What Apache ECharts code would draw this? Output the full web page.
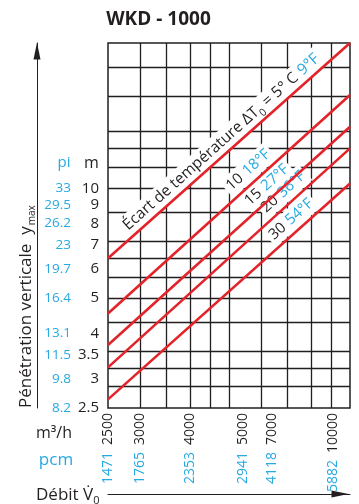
<!DOCTYPE html>
<html>
<head>
<meta charset="utf-8">
<script src="https://cdn.jsdelivr.net/npm/echarts@6/dist/echarts.min.js"></script>
<style>
  html, body { margin: 0; padding: 0; background: #fff; }
  #chart { width: 359px; height: 504px; }
</style>
</head>
<body>
<div id="chart"></div>
<script>
// Air flow tick labels: where each label sits (m³/h), its m³/h text and its cfm text
const flowTickValues = [2500, 3000, 4000, 5420, 6400, 9070];
const flowTickM3h = ['2500', '3000', '4000', '5000', '7000', '10000'];
const flowTickCfm = ['1471', '1765', '2353', '2941', '4118', '5882'];

// Vertical penetration tick labels (m) and their feet equivalents
const depthTickValues = [2.5, 3, 3.5, 4, 5, 6, 7, 8, 9, 10];
const depthTickFt = ['8.2', '9.8', '11.5', '13.1', '16.4', '19.7', '23', '26.2', '29.5', '33'];

// Log grid lines
const flowGrid = [3000, 3500, 4000, 4500, 5000, 6000, 7000, 8000, 9000];
const depthGrid = [2.86, 3.21, 3.57, 4.29, 5, 5.71, 6.43, 7.14, 8.57, 10, 11.43, 12.86, 14.29, 17.86, 21.43];

// Temperature difference curves (°C / °F), penetration at both ends of the flow range
const deltaC = [5, 10, 15, 20, 30];
const deltaF = [9, 18, 27, 36, 54];
const curveFlow = [2500, 10000];
const curve5 = [6.43, 25];
const curve10 = [4.54, 18.0];
const curve15 = [3.72, 14.74];
const curve20 = [3.23, 12.86];
const curve30 = [2.64, 10.3];

const curves = [curve5, curve10, curve15, curve20, curve30];

const FONT = '"Open Sans", "DejaVu Sans", sans-serif';
const BLACK = '#231f20';
const BLUE = '#27a9e1';
const RED = '#e3232a';
const lg = Math.log10;

function nearestIndex(list, v) {
  let best = 0;
  list.forEach((x, i) => { if (Math.abs(lg(x) - v) < Math.abs(lg(list[best]) - v)) best = i; });
  return best;
}

// label placement along each curve
const curveLabelPos = ['insideMiddleTop', 'insideEndTop', 'insideEndTop', 'insideEndTop', 'insideEndTop'];
const curveLabelDist = [[0, 1], [96, 2], [71, 2], [49, 2], [38, 2]];

const curveRich = {
  blk: { color: BLACK, fontSize: 15, fontFamily: FONT, lineHeight: 17 },
  blu: { color: BLUE, fontSize: 15, fontFamily: FONT, lineHeight: 17, padding: [0, 0, 0, 5] },
  bl0: { color: BLUE, fontSize: 15.5, fontFamily: FONT, lineHeight: 17, padding: [0, 0, 0, 5] },
  big: { color: BLACK, fontSize: 15.5, fontFamily: FONT, lineHeight: 17 },
  sub: { color: BLACK, fontSize: 10.5, fontFamily: FONT, lineHeight: 17, padding: [12, 0, 0, 0] }
};

const curveLabels = deltaC.map((c, i) => i === 0
  ? '{big|Écart de température ΔT}{sub|0}{big| = ' + c + '° C}{bl0|' + deltaF[i] + '°F}'
  : '{blk|' + c + '}{blu|' + deltaF[i] + '°F}');

const chart = echarts.init(document.getElementById('chart'), null, { renderer: 'canvas' });

const hidden = { show: false };

const option = {
  animation: false,
  grid: {
    left: 108, right: 9, top: 43, bottom: 96,
    show: true, borderColor: BLACK, borderWidth: 1.5, backgroundColor: 'transparent'
  },
  xAxis: [
    { type: 'log', min: curveFlow[0], max: curveFlow[1], show: false },
    {
      type: 'value', position: 'bottom', min: lg(2500), max: lg(10000),
      axisLine: hidden, axisTick: hidden, splitLine: hidden,
      axisLabel: {
        customValues: flowTickValues.map(lg),
        rotate: 90, margin: 5,
        formatter: v => {
          const i = nearestIndex(flowTickValues, v);
          return '{p|' + flowTickCfm[i] + '}{m|' + flowTickM3h[i] + '}';
        },
        rich: {
          p: { color: BLUE, fontSize: 14, fontFamily: FONT },
          m: { color: BLACK, fontSize: 14, fontFamily: FONT, padding: [0, 0, 0, 7] }
        }
      }
    },
    {
      type: 'value', position: 'bottom', offset: 86, min: 0, max: 1,
      axisLine: {
        show: true, symbol: ['none', 'triangle'], symbolSize: [7, 17], symbolOffset: [0, -10],
        lineStyle: { color: BLACK, width: 1 }
      },
      axisTick: hidden, axisLabel: hidden, splitLine: hidden
    }
  ],
  yAxis: [
    { type: 'log', min: 2.5, max: 25, show: false },
    {
      type: 'value', position: 'left', min: lg(2.5), max: lg(25),
      axisLine: hidden, axisTick: hidden, splitLine: hidden,
      axisLabel: {
        customValues: depthTickValues.map(lg), margin: 9,
        color: BLACK, fontSize: 15, fontFamily: FONT,
        formatter: v => String(depthTickValues[nearestIndex(depthTickValues, v)])
      }
    },
    {
      type: 'value', position: 'left', min: lg(2.5), max: lg(25),
      axisLine: hidden, axisTick: hidden, splitLine: hidden,
      axisLabel: {
        customValues: depthTickValues.map(lg), margin: 37,
        color: BLUE, fontSize: 13.5, fontFamily: FONT,
        formatter: v => depthTickFt[nearestIndex(depthTickValues, v)]
      }
    },
    {
      type: 'value', position: 'left', offset: 71, min: 0, max: 1,
      axisLine: {
        show: true, symbol: ['none', 'triangle'], symbolSize: [7, 17], symbolOffset: [0, -8],
        lineStyle: { color: BLACK, width: 1 }
      },
      axisTick: hidden, axisLabel: hidden, splitLine: hidden
    }
  ],
  series: [
    {
      type: 'line', xAxisIndex: 0, yAxisIndex: 0, data: [], silent: true, z: 1,
      markLine: {
        silent: true, animation: false, z: 1, symbol: 'none',
        label: { show: false },
        lineStyle: { color: BLACK, width: 1.3, type: 'solid' },
        emphasis: { disabled: true },
        data: flowGrid.map(v => ({ xAxis: v })).concat(depthGrid.map(v => ({ yAxis: v })))
      }
    }
  ].concat(curves.map((c, i) => ({
    type: 'line', xAxisIndex: 0, yAxisIndex: 0, z: 10, silent: true,
    symbol: 'none', showSymbol: false,
    lineStyle: { color: RED, width: 2.6 },
    data: [[curveFlow[0], c[0]], [curveFlow[1], c[1]]],
    markLine: {
      silent: true, animation: false, z: 3, symbol: 'none',
      lineStyle: { color: 'rgba(0,0,0,0)', width: 0 },
      emphasis: { disabled: true },
      label: {
        show: true, position: curveLabelPos[i], distance: curveLabelDist[i],
        formatter: () => curveLabels[i],
        backgroundColor: '#fff', padding: [2, 3],
        rich: curveRich
      },
      data: [[{ coord: [curveFlow[0], c[0]] }, { coord: [curveFlow[1], c[1]] }]]
    }
  }))),
  graphic: [
    { type: 'text', x: 158.5, y: 20, silent: true,
      style: { text: 'WKD - 1000', fill: BLACK, fontSize: 19, fontWeight: 'bold', fontFamily: FONT,
               textAlign: 'center', textVerticalAlign: 'middle' } },
    { type: 'text', x: 64, y: 163, silent: true,
      style: { text: 'pi', fill: BLUE, fontSize: 15, fontFamily: FONT, textAlign: 'center', textVerticalAlign: 'middle' } },
    { type: 'text', x: 91.5, y: 163, silent: true,
      style: { text: 'm', fill: BLACK, fontSize: 16, fontFamily: FONT, textAlign: 'center', textVerticalAlign: 'middle' } },
    { type: 'text', x: 54, y: 433, silent: true,
      style: { text: 'm³/h', fill: BLACK, fontSize: 16, fontFamily: FONT, textAlign: 'center', textVerticalAlign: 'middle' } },
    { type: 'text', x: 56, y: 460, silent: true,
      style: { text: 'pcm', fill: BLUE, fontSize: 17, fontFamily: FONT, textAlign: 'center', textVerticalAlign: 'middle' } },
    { type: 'text', x: 36, y: 495, silent: true,
      style: {
        text: '{a|Débit V\u0307}{s|0}', textAlign: 'left', textVerticalAlign: 'middle',
        rich: {
          a: { fill: BLACK, color: BLACK, fontSize: 17, fontFamily: FONT, lineHeight: 20 },
          s: { fill: BLACK, color: BLACK, fontSize: 11, fontFamily: FONT, lineHeight: 20, padding: [12, 0, 0, 0] }
        }
      } },
    { type: 'text', x: 26, y: 408, rotation: Math.PI / 2, silent: true,
      style: {
        text: '{a|Pénétration verticale  y}{s|max}', textAlign: 'left', textVerticalAlign: 'middle',
        rich: {
          a: { fill: BLACK, color: BLACK, fontSize: 17, fontFamily: FONT, lineHeight: 20 },
          s: { fill: BLACK, color: BLACK, fontSize: 10, fontFamily: FONT, lineHeight: 20, padding: [12, 0, 0, 1] }
        }
      } }
  ]
};

chart.setOption(option);
</script>
</body>
</html>
